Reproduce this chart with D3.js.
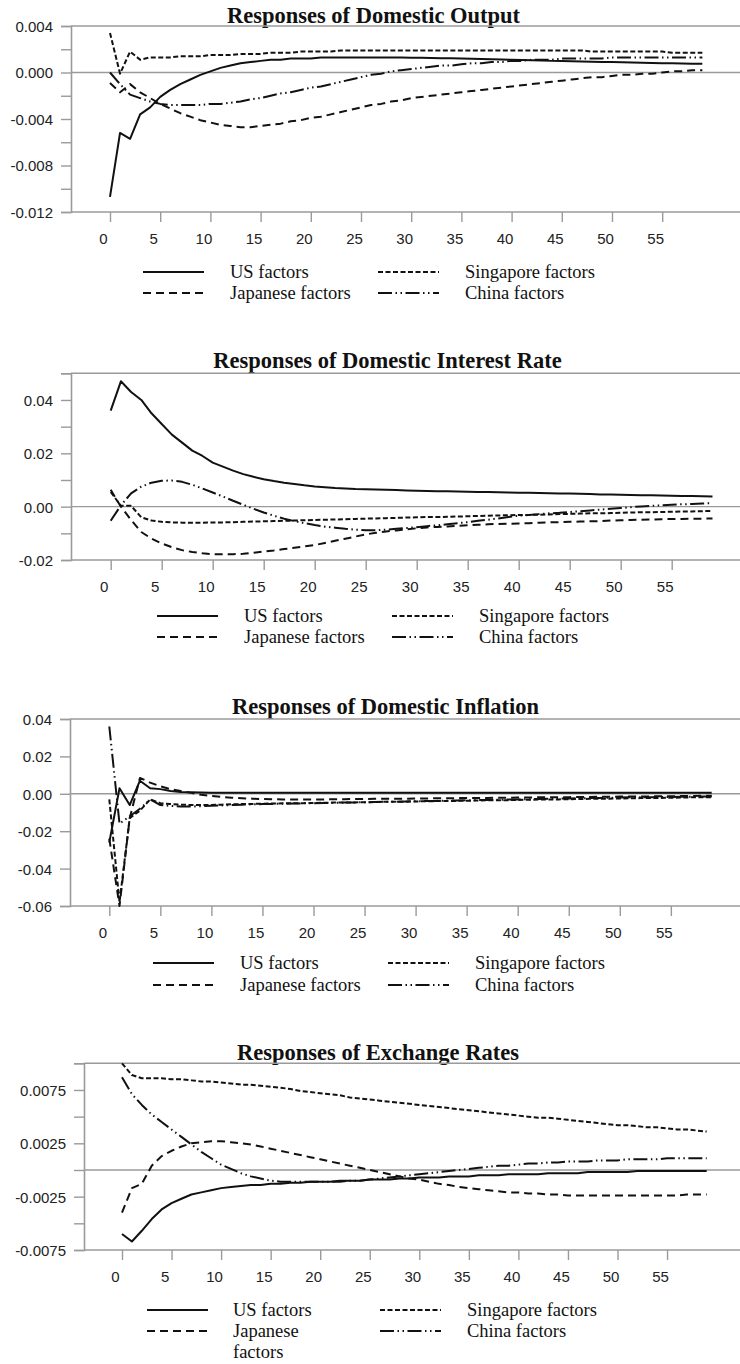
<!DOCTYPE html>
<html><head><meta charset="utf-8">
<script src="https://cdn.jsdelivr.net/npm/d3@7"></script>
<style>
html,body{margin:0;padding:0;background:#fff;}
svg{display:block;}
</style></head>
<body>
<svg id="chart" width="740" height="1364"></svg>
<script>
// ---------------- DATA ----------------
const periods = [0,1,2,3,4,5,6,7,8,9,10,11,12,13,14,15,16,17,18,19,20,21,22,23,24,25,26,27,28,29,
  30,31,32,33,34,35,36,37,38,39,40,41,42,43,44,45,46,47,48,49,50,51,52,53,54,55,56,57,58,59];
const xTickValues = [0,5,10,15,20,25,30,35,40,45,50,55];
const seriesNames = ["US factors","Japanese factors","Singapore factors","China factors"];
const panelTitles = ["Responses of Domestic Output","Responses of Domestic Interest Rate",
  "Responses of Domestic Inflation","Responses of Exchange Rates"];

// Panel 1: Domestic Output
const outputTicks = [0.004,0.002,0.000,-0.002,-0.004,-0.006,-0.008,-0.010,-0.012];
const outputLabels = [0.004,0.000,-0.004,-0.008,-0.012];
const outputUS = [-0.0107,-0.0052,-0.0057,-0.0036,-0.0030,-0.0021,-0.0015,-0.0010,-0.0006,-0.0002,
  0.0001,0.0004,0.0006,0.0008,0.0009,0.0010,0.0011,0.0011,0.0012,0.0012,
  0.0012,0.0013,0.0013,0.0013,0.0013,0.0013,0.0013,0.0013,0.0013,0.0013,
  0.00127,0.00126,0.00125,0.00123,0.00122,0.0012,0.00118,0.00116,0.00114,0.00112,
  0.0011,0.00108,0.00105,0.00103,0.0010,0.00098,0.00096,0.00094,0.00092,0.0009,
  0.0009,0.00088,0.00086,0.00084,0.00082,0.0008,0.00079,0.00078,0.00076,0.00075];
const outputJapan = [-0.0009,-0.0017,-0.0010,-0.0017,-0.0022,-0.0027,-0.0031,-0.0035,-0.0038,-0.0041,
  -0.0043,-0.0045,-0.0046,-0.0047,-0.0047,-0.0046,-0.0045,-0.0044,-0.0042,-0.0041,
  -0.0039,-0.0038,-0.0036,-0.0034,-0.0032,-0.0030,-0.0028,-0.0027,-0.0025,-0.0024,
  -0.0022,-0.0021,-0.0020,-0.0019,-0.0018,-0.0017,-0.0016,-0.0015,-0.0014,-0.0013,
  -0.0012,-0.0011,-0.0010,-0.0009,-0.0008,-0.0007,-0.0006,-0.0005,-0.0004,-0.0004,
  -0.0003,-0.0002,-0.0002,-0.0001,-0.0001,0.0000,0.0001,0.0001,0.0002,0.0002];
const outputSing = [0.0034,-0.0001,0.0018,0.0011,0.0013,0.0013,0.0013,0.0014,0.0014,0.0014,
  0.0015,0.0015,0.0015,0.0016,0.0016,0.0016,0.0017,0.0017,0.0017,0.0018,
  0.0018,0.0018,0.0018,0.0019,0.0019,0.0019,0.0019,0.0019,0.0019,0.0019,
  0.0019,0.0019,0.0019,0.0019,0.0019,0.0019,0.0019,0.0019,0.0019,0.0019,
  0.0019,0.0019,0.0019,0.0019,0.0019,0.0019,0.0019,0.0019,0.0018,0.0018,
  0.0018,0.0018,0.0018,0.0018,0.0018,0.0018,0.0017,0.0017,0.0017,0.0017];
const outputChina = [0.0000,-0.0010,-0.0019,-0.0022,-0.0025,-0.0027,-0.0028,-0.0028,-0.0028,-0.0028,
  -0.0027,-0.0027,-0.0026,-0.0025,-0.0023,-0.0022,-0.0020,-0.0018,-0.0017,-0.0015,
  -0.0013,-0.0012,-0.0010,-0.0008,-0.0006,-0.0004,-0.0002,-0.0001,0.0001,0.0002,
  0.0003,0.0004,0.0005,0.0006,0.0006,0.0007,0.0008,0.0008,0.0009,0.0009,
  0.0010,0.0010,0.0011,0.0011,0.0011,0.0012,0.0012,0.0012,0.0012,0.0012,
  0.0013,0.0013,0.0013,0.0013,0.0013,0.0013,0.0013,0.0013,0.0013,0.0013];

// Panel 2: Domestic Interest Rate
const rateTicks = [0.05,0.04,0.03,0.02,0.01,0.00,-0.01,-0.02];
const rateLabels = [0.04,0.02,0.00,-0.02];
const rateUS = [0.036,0.047,0.043,0.040,0.035,0.031,0.027,0.024,0.021,0.019,
  0.0165,0.015,0.0135,0.0122,0.0112,0.0103,0.0096,0.0090,0.0085,0.0080,
  0.0076,0.0073,0.0070,0.0068,0.0066,0.0065,0.0064,0.0063,0.0062,0.0061,
  0.0060,0.0059,0.0058,0.0058,0.0057,0.0056,0.0055,0.0055,0.0054,0.0053,
  0.0052,0.0052,0.0051,0.0050,0.0049,0.0049,0.0048,0.0047,0.0046,0.0046,
  0.0045,0.0044,0.0043,0.0043,0.0042,0.0041,0.0040,0.0040,0.0039,0.0038];
const rateJapan = [0.0063,0.0000,-0.0050,-0.0095,-0.0120,-0.0138,-0.0152,-0.0163,-0.0170,-0.0175,
  -0.0178,-0.0178,-0.0178,-0.0177,-0.0173,-0.0168,-0.0164,-0.0159,-0.0154,-0.0149,
  -0.0144,-0.0136,-0.0128,-0.0120,-0.0112,-0.0104,-0.0098,-0.0093,-0.0089,-0.0085,
  -0.0081,-0.0078,-0.0076,-0.0074,-0.0072,-0.0070,-0.0068,-0.0066,-0.0065,-0.0064,
  -0.0063,-0.0062,-0.0060,-0.0059,-0.0058,-0.0057,-0.0056,-0.0055,-0.0054,-0.0052,
  -0.0051,-0.0050,-0.0049,-0.0048,-0.0047,-0.0046,-0.0046,-0.0045,-0.0045,-0.0044];
const rateSing = [0.0055,0.0003,0.0003,-0.0040,-0.0052,-0.0057,-0.0059,-0.0060,-0.0060,-0.0060,
  -0.0059,-0.0059,-0.0058,-0.0057,-0.0056,-0.0055,-0.0054,-0.0053,-0.0052,-0.0051,
  -0.0050,-0.0049,-0.0048,-0.0047,-0.0046,-0.0045,-0.0044,-0.0043,-0.0042,-0.0041,
  -0.0040,-0.0039,-0.0039,-0.0038,-0.0037,-0.0036,-0.0035,-0.0034,-0.0033,-0.0032,
  -0.0031,-0.0031,-0.0030,-0.0029,-0.0028,-0.0027,-0.0026,-0.0025,-0.0025,-0.0024,
  -0.0023,-0.0022,-0.0021,-0.0021,-0.0020,-0.0019,-0.0018,-0.0018,-0.0017,-0.0016];
const rateChina = [-0.0053,0.0005,0.0050,0.0075,0.0090,0.0097,0.0098,0.0093,0.0082,0.0068,
  0.0053,0.0038,0.0022,0.0007,-0.0008,-0.0022,-0.0034,-0.0045,-0.0054,-0.0062,
  -0.0069,-0.0075,-0.0079,-0.0083,-0.0086,-0.0088,-0.0088,-0.0086,-0.0083,-0.0080,
  -0.0077,-0.0073,-0.0070,-0.0066,-0.0062,-0.0058,-0.0053,-0.0049,-0.0044,-0.0039,
  -0.0034,-0.0031,-0.0028,-0.0025,-0.0023,-0.0020,-0.0017,-0.0014,-0.0011,-0.0008,
  -0.0005,-0.0002,0.0001,0.0003,0.0005,0.0007,0.0009,0.0010,0.0012,0.0013];

// Panel 3: Domestic Inflation
const inflTicks = [0.04,0.02,0.00,-0.02,-0.04,-0.06];
const inflLabels = [0.04,0.02,0.00,-0.02,-0.04,-0.06];
const inflUS = [-0.026,0.003,-0.006,0.007,0.003,0.0025,0.0015,0.0010,0.0008,0.0007,
  0.0006,0.0006,0.0006,0.0006,0.0006,0.0006,0.0006,0.0006,0.0006,0.0006,
  0.0006,0.0006,0.0006,0.0006,0.0006,0.0006,0.0006,0.0006,0.0006,0.0006,
  0.0006,0.0006,0.0006,0.0006,0.0006,0.0006,0.0006,0.0006,0.0006,0.0006,
  0.0005,0.0005,0.0005,0.0005,0.0005,0.0005,0.0005,0.0005,0.0005,0.0005,
  0.0005,0.0005,0.0005,0.0005,0.0005,0.0005,0.0005,0.0005,0.0005,0.0005];
const inflJapan = [-0.024,-0.060,-0.013,0.0085,0.006,0.004,0.0025,0.0015,0.0005,-0.0005,
  -0.0012,-0.0017,-0.0021,-0.0024,-0.0026,-0.0028,-0.0029,-0.0030,-0.0030,-0.0030,
  -0.0030,-0.0030,-0.0029,-0.0029,-0.0028,-0.0028,-0.0027,-0.0027,-0.0026,-0.0026,
  -0.0025,-0.0025,-0.0024,-0.0024,-0.0023,-0.0023,-0.0022,-0.0022,-0.0021,-0.0021,
  -0.0020,-0.0020,-0.0019,-0.0019,-0.0018,-0.0018,-0.0017,-0.0017,-0.0016,-0.0016,
  -0.0015,-0.0015,-0.0014,-0.0014,-0.0013,-0.0013,-0.0012,-0.0012,-0.0011,-0.0011];
const inflSing = [-0.003,-0.058,-0.013,-0.009,-0.003,-0.005,-0.0055,-0.0058,-0.0060,-0.0060,
  -0.0060,-0.0058,-0.0056,-0.0055,-0.0054,-0.0053,-0.0052,-0.0051,-0.0050,-0.0050,
  -0.0049,-0.0048,-0.0047,-0.0046,-0.0046,-0.0045,-0.0044,-0.0043,-0.0042,-0.0042,
  -0.0041,-0.0040,-0.0039,-0.0038,-0.0038,-0.0037,-0.0036,-0.0035,-0.0034,-0.0034,
  -0.0033,-0.0032,-0.0031,-0.0030,-0.0030,-0.0029,-0.0028,-0.0027,-0.0026,-0.0026,
  -0.0025,-0.0024,-0.0023,-0.0022,-0.0022,-0.0021,-0.0020,-0.0019,-0.0018,-0.0018];
const inflChina = [0.036,-0.016,-0.012,-0.008,-0.003,-0.006,-0.0065,-0.0068,-0.0068,-0.0066,
  -0.0064,-0.0062,-0.0060,-0.0058,-0.0056,-0.0055,-0.0054,-0.0053,-0.0052,-0.0051,
  -0.0050,-0.0049,-0.0048,-0.0047,-0.0046,-0.0045,-0.0044,-0.0043,-0.0042,-0.0041,
  -0.0040,-0.0039,-0.0038,-0.0037,-0.0036,-0.0035,-0.0034,-0.0033,-0.0032,-0.0031,
  -0.0030,-0.0029,-0.0028,-0.0027,-0.0026,-0.0025,-0.0024,-0.0023,-0.0022,-0.0021,
  -0.0020,-0.0019,-0.0019,-0.0018,-0.0017,-0.0017,-0.0016,-0.0016,-0.0015,-0.0015];

// Panel 4: Exchange Rates
const exchTicks = [0.01,0.0075,0.005,0.0025,0,-0.0025,-0.005,-0.0075];
const exchLabels = [0.0075,0.0025,-0.0025,-0.0075];
const exchUS = [-0.0060,-0.0067,-0.0057,-0.0046,-0.0037,-0.0031,-0.0027,-0.0023,-0.0021,-0.0019,
  -0.0017,-0.0016,-0.0015,-0.0014,-0.0014,-0.0013,-0.0013,-0.0012,-0.0012,-0.0011,
  -0.0011,-0.0011,-0.0010,-0.0010,-0.0010,-0.0009,-0.0009,-0.0009,-0.0008,-0.0008,
  -0.0007,-0.0007,-0.0007,-0.0006,-0.0006,-0.0006,-0.0005,-0.0005,-0.0005,-0.0004,
  -0.0004,-0.0004,-0.0004,-0.0003,-0.0003,-0.0003,-0.0003,-0.0002,-0.0002,-0.0002,
  -0.0002,-0.0002,-0.0001,-0.0001,-0.0001,-0.0001,-0.0001,-0.0001,-0.0001,-0.0001];
const exchJapan = [-0.0040,-0.0017,-0.0013,0.0004,0.0013,0.0018,0.0022,0.0025,0.0026,0.0027,
  0.0027,0.0026,0.0025,0.0024,0.0022,0.0020,0.0018,0.0016,0.0014,0.0012,
  0.0010,0.0008,0.0006,0.0004,0.0002,0.0000,-0.0002,-0.0004,-0.0006,-0.0008,
  -0.0009,-0.0011,-0.0013,-0.0014,-0.0016,-0.0017,-0.0018,-0.0019,-0.0020,-0.0021,
  -0.0021,-0.0022,-0.0022,-0.0023,-0.0023,-0.0024,-0.0024,-0.0024,-0.0024,-0.0024,
  -0.0024,-0.0024,-0.0024,-0.0024,-0.0024,-0.0024,-0.0024,-0.0023,-0.0023,-0.0023];
const exchSing = [0.0100,0.0089,0.0086,0.0086,0.0086,0.0085,0.0085,0.0084,0.0083,0.0083,
  0.0082,0.0081,0.0080,0.0080,0.0079,0.0078,0.0077,0.0076,0.0074,0.0073,
  0.0072,0.0071,0.0070,0.0068,0.0067,0.0066,0.0065,0.0064,0.0063,0.0062,
  0.0061,0.0060,0.0059,0.0058,0.0057,0.0056,0.0055,0.0054,0.0053,0.0052,
  0.0051,0.0050,0.0049,0.0049,0.0048,0.0047,0.0046,0.0045,0.0044,0.0043,
  0.0042,0.0042,0.0041,0.0040,0.0040,0.0039,0.0038,0.0038,0.0037,0.0036];
const exchChina = [0.0087,0.0071,0.0061,0.0052,0.0045,0.0038,0.0031,0.0024,0.0017,0.0011,
  0.0005,0.0001,-0.0003,-0.0006,-0.0008,-0.0010,-0.0011,-0.0011,-0.0011,-0.0011,
  -0.0011,-0.0011,-0.0011,-0.0010,-0.0010,-0.0009,-0.0008,-0.0007,-0.0006,-0.0005,
  -0.0004,-0.0003,-0.0002,-0.0001,0.0000,0.0001,0.0002,0.0003,0.0004,0.0004,
  0.0005,0.0006,0.0006,0.0007,0.0007,0.0008,0.0008,0.0008,0.0009,0.0009,
  0.0009,0.0010,0.0010,0.0010,0.0010,0.0011,0.0011,0.0011,0.0011,0.0011];

// ---------------- LAYOUT / STYLE (not data) ----------------
const dashes = ["none", "8,5", "5,2.5", "14,3.5,1.5,3.5,1.5,3.5"];
const layout = [
  {series:[outputUS,outputJapan,outputSing,outputChina], ticks:outputTicks, labels:outputLabels, dec:3,
   domain:[-0.012,0.004], left:71, top:26, bottom:212, x0:110, unit:10.04, titleX:373.5, titleY:22.5,
   rows:[272,293], sw:[143,378], tx:[230,465], wrap:false},
  {series:[rateUS,rateJapan,rateSing,rateChina], ticks:rateTicks, labels:rateLabels, dec:2,
   domain:[-0.02,0.05], left:71, top:373.3, bottom:560, x0:110.7, unit:10.2, titleX:387.5, titleY:368,
   rows:[616,637], sw:[157,392], tx:[244,479], wrap:false},
  {series:[inflUS,inflJapan,inflSing,inflChina], ticks:inflTicks, labels:inflLabels, dec:2,
   domain:[-0.06,0.04], left:70, top:719, bottom:906, x0:109.3, unit:10.21, titleX:385.5, titleY:714,
   rows:[963,985], sw:[153,388], tx:[240,475], wrap:false},
  {series:[exchUS,exchJapan,exchSing,exchChina], ticks:exchTicks, labels:exchLabels, dec:4,
   domain:[-0.0075,0.01], left:84, top:1063.3, bottom:1250, x0:122, unit:9.91, titleX:378, titleY:1060,
   rows:[1310,1331], sw:[147,380], tx:[233,467], wrap:true}
];
const frameColor = "#9a9a9a";
const inkColor = "#111";
const sansFont = "'Liberation Sans', Arial, sans-serif";
const serifFont = "'Liberation Serif', 'Times New Roman', serif";

const svg = d3.select("#chart");
const W = 740;

layout.forEach((p, pi) => {
  const g = svg.append("g");
  const x = d3.scaleLinear().domain([periods[0], periods[periods.length-1]])
    .range([p.x0, p.x0 + (periods.length-1)*p.unit]);
  const y = d3.scaleLinear().domain(p.domain).range([p.bottom, p.top]);

  // title
  g.append("text").attr("x", p.titleX).attr("y", p.titleY).attr("text-anchor","middle")
    .attr("font-family", serifFont).attr("font-weight","bold").attr("font-size", 22.5)
    .attr("fill", inkColor).text(panelTitles[pi]);

  // horizontal frame lines: top, zero, bottom
  [p.domain[1], 0, p.domain[0]].forEach(v => {
    g.append("line").attr("x1", p.left).attr("x2", W).attr("y1", y(v)).attr("y2", y(v))
      .attr("stroke", frameColor).attr("stroke-width", 1.4);
  });
  // left axis with ticks
  const yAxis = d3.axisLeft(y).tickValues(p.ticks).tickSize(10).tickPadding(8)
    .tickFormat(v => p.labels.some(l => Math.abs(l - v) < 1e-9) ? v.toFixed(p.dec) : "");
  const ya = g.append("g").attr("transform", `translate(${p.left},0)`).call(yAxis);
  ya.select(".domain").attr("stroke", frameColor).attr("stroke-width", 1.6);
  ya.selectAll(".tick line").attr("stroke", frameColor).attr("stroke-width", 1.4);
  ya.selectAll(".tick text").attr("font-family", sansFont).attr("font-size", 15)
    .attr("fill", "#222").attr("x", -18).attr("dy", "0.36em");

  // bottom axis ticks
  const xAxis = d3.axisBottom(x).tickValues(xTickValues).tickSize(10).tickFormat(d3.format("d"));
  const xa = g.append("g").attr("transform", `translate(0,${p.bottom})`).call(xAxis);
  xa.select(".domain").remove();
  xa.selectAll(".tick line").attr("stroke", frameColor).attr("stroke-width", 1.4);
  xa.selectAll(".tick text").attr("font-family", sansFont).attr("font-size", 15)
    .attr("fill", "#222").attr("x", -7).attr("y", 21).attr("dy", "0.71em");

  // series lines
  const line = d3.line().x((d, i) => x(periods[i])).y(d => y(d));
  p.series.forEach((s, si) => {
    g.append("path").datum(s).attr("d", line).attr("fill", "none")
      .attr("stroke", inkColor).attr("stroke-width", 2)
      .attr("stroke-dasharray", dashes[si]).attr("stroke-linejoin", "round");
  });

  // legend: col 0 -> US, Japanese ; col 1 -> Singapore, China
  const order = [[0, 1], [2, 3]];
  order.forEach((col, ci) => {
    col.forEach((si, ri) => {
      const cy = p.rows[ri];
      g.append("line").attr("x1", p.sw[ci]).attr("x2", p.sw[ci] + 61).attr("y1", cy).attr("y2", cy)
        .attr("stroke", inkColor).attr("stroke-width", 2).attr("stroke-dasharray", dashes[si]);
      const name = seriesNames[si];
      const parts = (p.wrap && si === 1) ? name.split(" ") : [name];
      parts.forEach((t, k) => {
        g.append("text").attr("x", p.tx[ci]).attr("y", cy + 6 + k * 21)
          .attr("font-family", serifFont).attr("font-size", 18.5).attr("fill", inkColor).text(t);
      });
    });
  });
});
</script>
</body></html>
